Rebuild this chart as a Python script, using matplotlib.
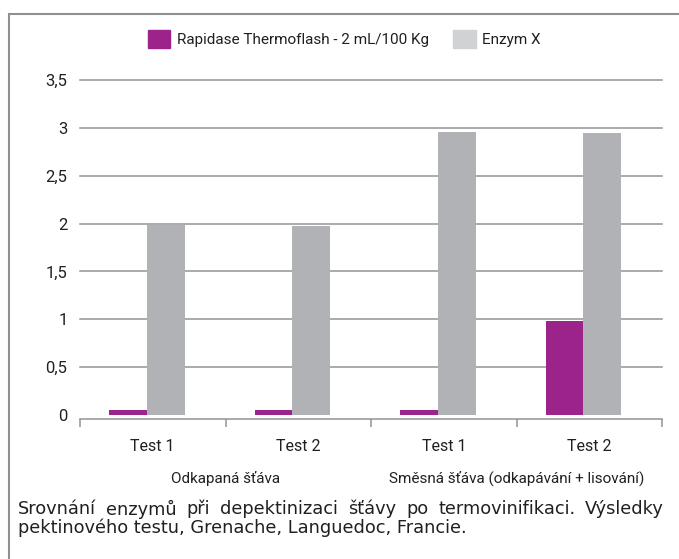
import matplotlib
matplotlib.use("Agg")
import matplotlib.pyplot as plt
from matplotlib.patches import Patch, Rectangle
import numpy as np

plt.rcParams['font.family'] = ['Roboto', 'DejaVu Sans']

# data
tests = ["Test 1", "Test 2", "Test 1", "Test 2"]
groups = ["Odkapaná šťáva", "Směsná šťáva (odkapávání + lisování)"]
rapidase = [0.05, 0.05, 0.05, 0.98]
enzym_x = [1.98, 1.97, 2.96, 2.95]
series_names = ["Rapidase Thermoflash - 2 mL/100 Kg", "Enzym X"]
yticks = [0, 0.5, 1, 1.5, 2, 2.5, 3, 3.5]
caption = ["Srovnání enzymů při depektinizaci šťávy po termovinifikaci. Výsledky",
           "pektinového testu, Grenache, Languedoc, Francie."]

purple = "#9b2389"
grey_bar = "#b1b2b5"
grey_leg = "#d1d2d4"
line_col = "#939393"
txt = "#231f20"

W, H = 679, 559
fig = plt.figure(figsize=(W / 100, H / 100), dpi=100)
ax = fig.add_axes([80 / W, (H - 415) / H, 582 / W, 335 / H])

x = np.arange(len(tests))
bw = 0.26
ax.bar(x - 0.17, rapidase, bw, color=purple, zorder=3)
ax.bar(x + 0.09, enzym_x, bw, color=grey_bar, zorder=3)

ax.set_xlim(-0.5, len(tests) - 0.5)
ax.set_ylim(0, 3.5)
ax.set_yticks(yticks)
ax.set_yticklabels([f"{v:g}".replace(".", ",") for v in yticks])
ax.tick_params(axis="y", length=0, pad=9, labelsize=12, labelcolor=txt)
ax.yaxis.grid(True, color=line_col, lw=1.1)
ax.set_axisbelow(True)
for gl in ax.get_ygridlines():
    gl.set_clip_on(False)
ax.get_ygridlines()[0].set_visible(False)

for s in ["left", "right", "top"]:
    ax.spines[s].set_visible(False)
ax.spines["bottom"].set_position(("outward", 3))
ax.spines["bottom"].set_color(line_col)
ax.spines["bottom"].set_linewidth(1.1)

ax.set_xticks(np.arange(-0.5, len(tests), 1.0))
ax.set_xticklabels([])
ax.tick_params(axis="x", which="major", length=6, width=1.1, color=line_col, direction="out")
ax.set_xticks(x, minor=True)
ax.set_xticklabels(tests, minor=True)
ax.tick_params(axis="x", which="minor", length=0, pad=14, labelsize=11.5, labelcolor=txt)

for i, g in enumerate(groups):
    ax.text(2 * i + 0.5, -0.19, g, transform=ax.get_xaxis_transform(),
            ha="center", va="center", fontsize=11, color=txt)

handles = [Patch(color=purple), Patch(color=grey_leg)]
fig.legend(handles, series_names, loc="center", bbox_to_anchor=(344 / W, 1 - 39 / H),
           ncol=2, frameon=False, fontsize=11, handlelength=1.5, handleheight=1.5,
           handletextpad=0.4, columnspacing=1.6, labelcolor=txt)

# frame around the figure
fig.add_artist(Rectangle((9 / W, -0.1), 1.2, 1.1 - 14 / H, transform=fig.transFigure,
                         fill=False, ec="#8f9090", lw=1.5))

# caption, first line justified between x=18 and x=664
cap_kw = dict(family="DejaVu Sans", fontsize=12.8, color=txt, va="center")
renderer = fig.canvas.get_renderer()
words = caption[0].split()
items = [fig.text(0, 1 - 509 / H, w, **cap_kw) for w in words]
widths = [t.get_window_extent(renderer).width for t in items]
gap = (664 - 18 - sum(widths)) / (len(words) - 1)
xpos = 18
for t, w in zip(items, widths):
    t.set_x(xpos / W)
    xpos += w + gap
fig.text(18 / W, 1 - 528 / H, caption[1], **cap_kw)

fig.savefig("out.png", dpi=100)
